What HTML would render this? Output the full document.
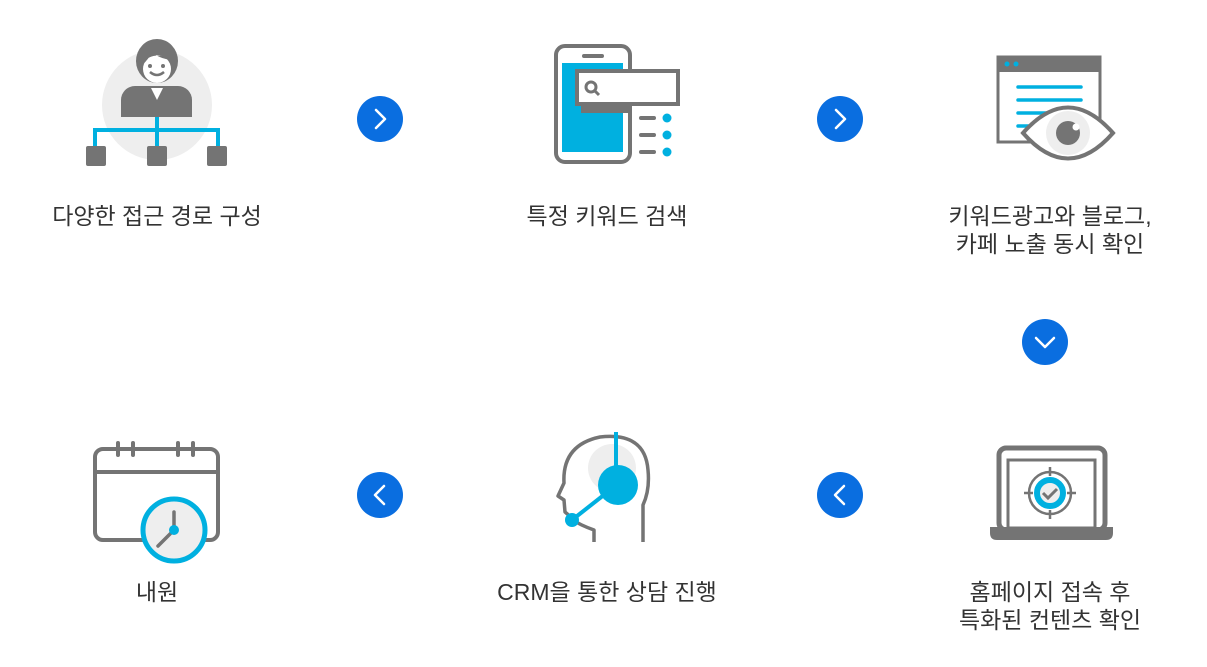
<!DOCTYPE html>
<html><head><meta charset="utf-8"><style>
html,body{margin:0;padding:0;background:#fff;width:1207px;height:667px;overflow:hidden}
svg{display:block}
text{font-family:"Liberation Sans","Noto Sans CJK KR",sans-serif;font-size:23px;fill:#333;text-anchor:middle}
</style></head><body>
<svg width="1207" height="667" viewBox="0 0 1207 667">
<!-- icon 1 -->
<circle cx="157" cy="105" r="55" fill="#eee"/>
<rect x="121" y="86" width="71" height="31" rx="14" fill="#747474"/>
<rect x="121" y="100" width="71" height="17" fill="#747474"/>
<polygon points="151,88 163,88 157,100" fill="#fff"/>
<ellipse cx="157" cy="61" rx="21" ry="22" fill="#747474"/>
<ellipse cx="157" cy="69" rx="14" ry="14" fill="#fff"/>
<path d="M143 64 Q148 52 171 57 L171 60 Q158 58 152 52 Q148 60 143 64Z" fill="#747474"/>
<circle cx="150" cy="66" r="2" fill="#747474"/><circle cx="163" cy="66" r="2" fill="#747474"/>
<path d="M150 72 Q157 78 164 72" stroke="#747474" stroke-width="2.5" fill="none"/>
<path d="M157 117 V147 M95 147 V130 H218 V147" stroke="#00b0e0" stroke-width="4" fill="none"/>
<rect x="86" y="146" width="20" height="20" rx="2" fill="#747474"/>
<rect x="147" y="146" width="20" height="20" rx="2" fill="#747474"/>
<rect x="207" y="146" width="20" height="20" rx="2" fill="#747474"/>
<!-- icon 2 -->
<rect x="556" y="46" width="74" height="116" rx="9" fill="#fff" stroke="#747474" stroke-width="4"/>
<rect x="562" y="63" width="61" height="89" fill="#00b0e0"/>
<line x1="584" y1="56" x2="602" y2="56" stroke="#747474" stroke-width="4" stroke-linecap="round"/>
<rect x="581" y="102" width="49" height="11" fill="#747474"/>
<rect x="577" y="71" width="101" height="33" fill="#fff" stroke="#747474" stroke-width="4"/>
<circle cx="591" cy="87" r="5" fill="none" stroke="#747474" stroke-width="3"/>
<line x1="595" y1="91" x2="599" y2="95" stroke="#747474" stroke-width="3"/>
<g stroke="#747474" stroke-width="4" stroke-linecap="round"><line x1="641" y1="118" x2="654" y2="118"/><line x1="641" y1="135" x2="654" y2="135"/><line x1="641" y1="152" x2="654" y2="152"/></g>
<g fill="#00b0e0"><circle cx="667" cy="118" r="4.5"/><circle cx="667" cy="135" r="4.5"/><circle cx="667" cy="152" r="4.5"/></g>
<!-- icon 3 -->
<rect x="998" y="57" width="102" height="85" fill="#fff" stroke="#747474" stroke-width="3"/>
<rect x="997" y="56" width="104" height="16" fill="#747474"/>
<circle cx="1007" cy="64" r="2.5" fill="#00b0e0"/><circle cx="1016" cy="64" r="2.5" fill="#00b0e0"/>
<g stroke="#00b0e0" stroke-width="3.5" stroke-linecap="round"><line x1="1018" y1="87" x2="1081" y2="87"/><line x1="1018" y1="100" x2="1081" y2="100"/><line x1="1018" y1="113" x2="1081" y2="113"/><line x1="1018" y1="126" x2="1081" y2="126"/></g>
<path d="M1023 133 Q1068 82 1113 133 Q1068 184 1023 133Z" fill="#fff" stroke="#747474" stroke-width="4"/>
<circle cx="1068" cy="133" r="22" fill="#eee"/>
<circle cx="1068" cy="133" r="12" fill="#747474"/>
<circle cx="1076" cy="127" r="3.5" fill="#fff"/>
<!-- icon 5 headset -->
<circle cx="612" cy="468" r="24" fill="#eee"/>
<path d="M594 542 V530 Q580 525 573 520 Q570 516 565 512 L564 500 L558 496 L564 483 Q562 445 600 437 Q645 432 648 470 Q650 490 643 505 V542" fill="none" stroke="#747474" stroke-width="3.5" stroke-linejoin="round"/>
<line x1="616" y1="432" x2="616" y2="480" stroke="#00b0e0" stroke-width="4"/>
<line x1="572" y1="520" x2="614" y2="487" stroke="#00b0e0" stroke-width="4"/>
<circle cx="618" cy="485" r="20" fill="#00b0e0"/>
<circle cx="572" cy="520" r="7" fill="#00b0e0"/>
<!-- icon 6 laptop -->
<rect x="999" y="448" width="106" height="82" rx="7" fill="#fff" stroke="#747474" stroke-width="5"/>
<rect x="1008" y="460" width="87" height="68" fill="#fff" stroke="#747474" stroke-width="3"/>
<path d="M990 527 H1113 V533 Q1113 540 1106 540 H997 Q990 540 990 533Z" fill="#747474"/>
<circle cx="1050" cy="493" r="21" fill="none" stroke="#747474" stroke-width="2.5"/>
<g stroke="#747474" stroke-width="2.5"><line x1="1050" y1="467" x2="1050" y2="476"/><line x1="1050" y1="510" x2="1050" y2="519"/><line x1="1024" y1="493" x2="1033" y2="493"/><line x1="1067" y1="493" x2="1076" y2="493"/></g>
<circle cx="1050" cy="493" r="13" fill="#eee" stroke="#00b0e0" stroke-width="6"/>
<path d="M1043 493 L1048 498 L1057 489" fill="none" stroke="#747474" stroke-width="3"/>
<!-- icon 7 calendar -->
<rect x="95" y="449" width="123" height="91" rx="8" fill="#fff" stroke="#747474" stroke-width="4"/>
<line x1="95" y1="472" x2="218" y2="472" stroke="#747474" stroke-width="4"/>
<g stroke="#747474" stroke-width="4" stroke-linecap="round"><line x1="118" y1="443" x2="118" y2="455"/><line x1="133" y1="443" x2="133" y2="455"/><line x1="178" y1="443" x2="178" y2="455"/><line x1="193" y1="443" x2="193" y2="455"/></g>
<circle cx="174" cy="530" r="31" fill="#eee" stroke="#00b0e0" stroke-width="5"/>
<path d="M174 512 V530 L158 546" fill="none" stroke="#747474" stroke-width="3.5" stroke-linecap="round"/>
<circle cx="174" cy="530" r="5" fill="#00b0e0"/>
<!-- arrows -->
<g fill="#0a6ee0"><circle cx="380" cy="119" r="23"/><circle cx="840" cy="119" r="23"/><circle cx="1045" cy="342" r="23"/><circle cx="380" cy="495" r="23"/><circle cx="840" cy="495" r="23"/></g>
<g fill="none" stroke="#fff" stroke-width="2.5" stroke-linecap="round" stroke-linejoin="round">
<path d="M376 110 L385 119 L376 128"/><path d="M836 110 L845 119 L836 128"/>
<path d="M1036 338 L1045 347 L1054 338"/>
<path d="M384 486 L375 495 L384 504"/><path d="M844 486 L835 495 L844 504"/></g>
<!-- labels -->
<text x="157" y="224">다양한 접근 경로 구성</text>
<text x="607" y="224">특정 키워드 검색</text>
<text x="1050" y="224">키워드광고와 블로그,</text>
<text x="1050" y="252">카페 노출 동시 확인</text>
<text x="157" y="600">내원</text>
<text x="607" y="600">CRM을 통한 상담 진행</text>
<text x="1050" y="600">홈페이지 접속 후</text>
<text x="1050" y="628">특화된 컨텐츠 확인</text>
</svg>
</body></html>
